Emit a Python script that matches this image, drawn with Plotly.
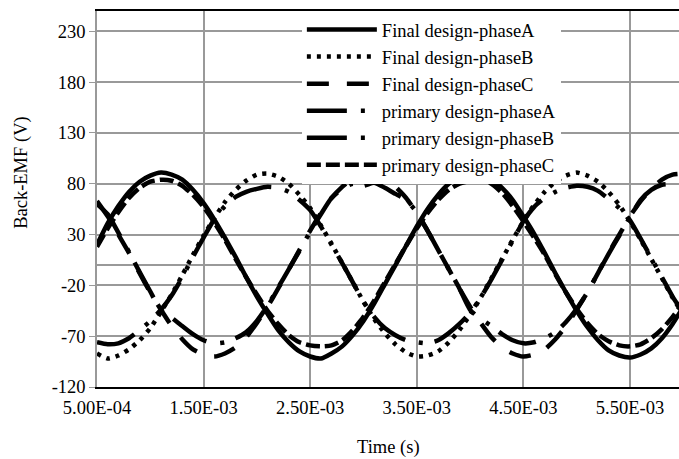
import plotly.graph_objects as go

# time samples (s)
time_s = [0.5e-3, 0.6e-3, 0.7e-3, 0.8e-3, 0.9e-3, 1.0e-3, 1.1e-3, 1.2e-3, 1.3e-3, 1.4e-3,
          1.5e-3, 1.6e-3, 1.7e-3, 1.8e-3, 1.9e-3, 2.0e-3, 2.1e-3, 2.2e-3, 2.3e-3, 2.4e-3,
          2.5e-3, 2.6e-3, 2.7e-3, 2.8e-3, 2.9e-3, 3.0e-3, 3.1e-3, 3.2e-3, 3.3e-3, 3.4e-3,
          3.5e-3, 3.6e-3, 3.7e-3, 3.8e-3, 3.9e-3, 4.0e-3, 4.1e-3, 4.2e-3, 4.3e-3, 4.4e-3,
          4.5e-3, 4.6e-3, 4.7e-3, 4.8e-3, 4.9e-3, 5.0e-3, 5.1e-3, 5.2e-3, 5.3e-3, 5.4e-3,
          5.5e-3, 5.6e-3, 5.7e-3, 5.8e-3, 5.9e-3, 6.0e-3]

final_A = [20, 41, 58, 72, 82, 88, 91, 89, 84, 74,
           61, 45, 27, 8, -12, -31, -48, -64, -76, -85,
           -90, -92, -87, -80, -69, -55, -38, -19, 0, 19,
           38, 55, 69, 80, 87, 91, 90, 85, 76, 64,
           48, 31, 12, -8, -27, -45, -61, -74, -84, -89,
           -91, -88, -82, -72, -58, -41]

final_B = [-87, -92, -89, -83, -74, -62, -46, -29, -10, 10,
           29, 46, 62, 74, 83, 89, 90, 87, 80, 69,
           56, 39, 21, 2, -17, -36, -53, -67, -78, -86,
           -90, -89, -85, -76, -64, -49, -32, -13, 6, 25,
           43, 59, 72, 82, 88, 91, 88, 82, 72, 59,
           43, 25, 6, -13, -32, -49]

final_C = [63, 48, 30, 12, -8, -27, -44, -60, -73, -83,
           -88, -90, -87, -81, -71, -57, -41, -23, -4, 15,
           34, 51, 66, 77, 85, 89, 89, 85, 77, 66,
           51, 34, 15, -4, -23, -41, -57, -71, -81, -87,
           -90, -88, -83, -73, -60, -44, -27, -8, 12, 30,
           48, 63, 75, 84, 89, 90]

primary_A = [60, 50, 32, 13, -7, -26, -45, -52, -60, -68,
             -74, -77, -76, -72, -66, -55, -40, -22, -4, 14,
             33, 50, 66, 75, 80, 78, 81, 76, 70, 64,
             52, 34, 15, -4, -23, -44, -53, -60, -68, -74,
             -77, -76, -72, -66, -56, -43, -27, -8, 11, 29,
             47, 64, 74, 79, 80, 81]

primary_B = [-76, -78, -77, -72, -64, -55, -44, -30, -12, 8,
             27, 45, 58, 67, 72, 75, 77, 76, 72, 64,
             54, 38, 20, 2, -17, -36, -51, -62, -69, -74,
             -76, -77, -74, -67, -58, -47, -32, -14, 5, 24,
             43, 57, 66, 72, 76, 78, 77, 73, 65, 56,
             44, 26, 7, -12, -31, -47]

primary_C = [18, 36, 52, 66, 76, 82, 84, 83, 78, 69,
             57, 42, 25, 6, -12, -29, -45, -58, -69, -76,
             -79, -80, -79, -74, -64, -51, -35, -17, 1, 19,
             36, 51, 64, 74, 80, 83, 84, 80, 71, 58,
             43, 27, 10, -9, -27, -43, -57, -68, -75, -79,
             -80, -78, -72, -63, -51, -37]

names = ["Final design-phaseA", "Final design-phaseB", "Final design-phaseC",
         "primary design-phaseA", "primary design-phaseB", "primary design-phaseC"]
series = [final_A, final_B, final_C, primary_A, primary_B, primary_C]
dashes = ["solid", "4px,6px", "22px,18px", "40px,14px,4px,12px", "40px,14px,4px,12px", "14px,5px"]

y_ticks = [-120, -70, -20, 30, 80, 130, 180, 230]
y_tick_text = ["-120", "-70", "-20", "30", "80", "130", "180", "230"]
x_ticks = [5.0e-4, 1.5e-3, 2.5e-3, 3.5e-3, 4.5e-3, 5.5e-3]
x_tick_text = ["5.00E-04", "1.50E-03", "2.50E-03", "3.50E-03", "4.50E-03", "5.50E-03"]

FONT = "Liberation Serif"
FS = 18.5

fig = go.Figure()
draw_order = [5, 4, 3, 2, 1, 0]
for i in draw_order:
    fig.add_trace(go.Scatter(
        x=time_s, y=series[i], mode="lines", name=names[i],
        line=dict(color="black", width=4.5, dash=dashes[i], shape="spline", smoothing=0.6),
        legendgroup=f"g{i}", legendrank=i + 1,
    ))

fig.update_layout(
    width=679, height=459,
    margin=dict(l=97, r=0, t=11, b=72),
    paper_bgcolor="white", plot_bgcolor="white",
    font=dict(family=FONT, size=FS, color="black"),
    showlegend=True,
    legend=dict(x=0.352, y=1.0, xanchor="left", yanchor="top",
                bgcolor="white", borderwidth=0, itemwidth=70,
                tracegroupgap=0, font=dict(family=FONT, size=FS, color="black")),
    xaxis=dict(range=[5.0e-4, 5.96e-3], tickvals=x_ticks, ticktext=x_tick_text,
               showgrid=True, gridcolor="#999999", gridwidth=1.5,
               showline=True, linecolor="black", linewidth=2, mirror=True,
               ticks="", zeroline=False, ticklabelstandoff=3,
               tickfont=dict(family=FONT, size=FS, color="black")),
    yaxis=dict(range=[-120, 250], tickvals=y_ticks, ticktext=y_tick_text,
               showgrid=True, gridcolor="#999999", gridwidth=1.5,
               showline=True, linecolor="#999999", linewidth=1.5,
               ticks="outside", ticklen=6, tickcolor="#999999",
               zeroline=True, zerolinecolor="#999999", zerolinewidth=1.5,
               tickfont=dict(family=FONT, size=FS, color="black")),
    annotations=[
        dict(text="Time (s)", xref="paper", yref="paper", x=0.5, y=-0.16,
             showarrow=False, xanchor="center", yanchor="middle",
             font=dict(family=FONT, size=FS, color="black")),
        dict(text="Back-EMF (V)", xref="paper", yref="paper", x=-0.129, y=0.572,
             showarrow=False, xanchor="center", yanchor="middle", textangle=-90,
             font=dict(family=FONT, size=FS, color="black")),
    ],
)

fig.write_html("out.html")
